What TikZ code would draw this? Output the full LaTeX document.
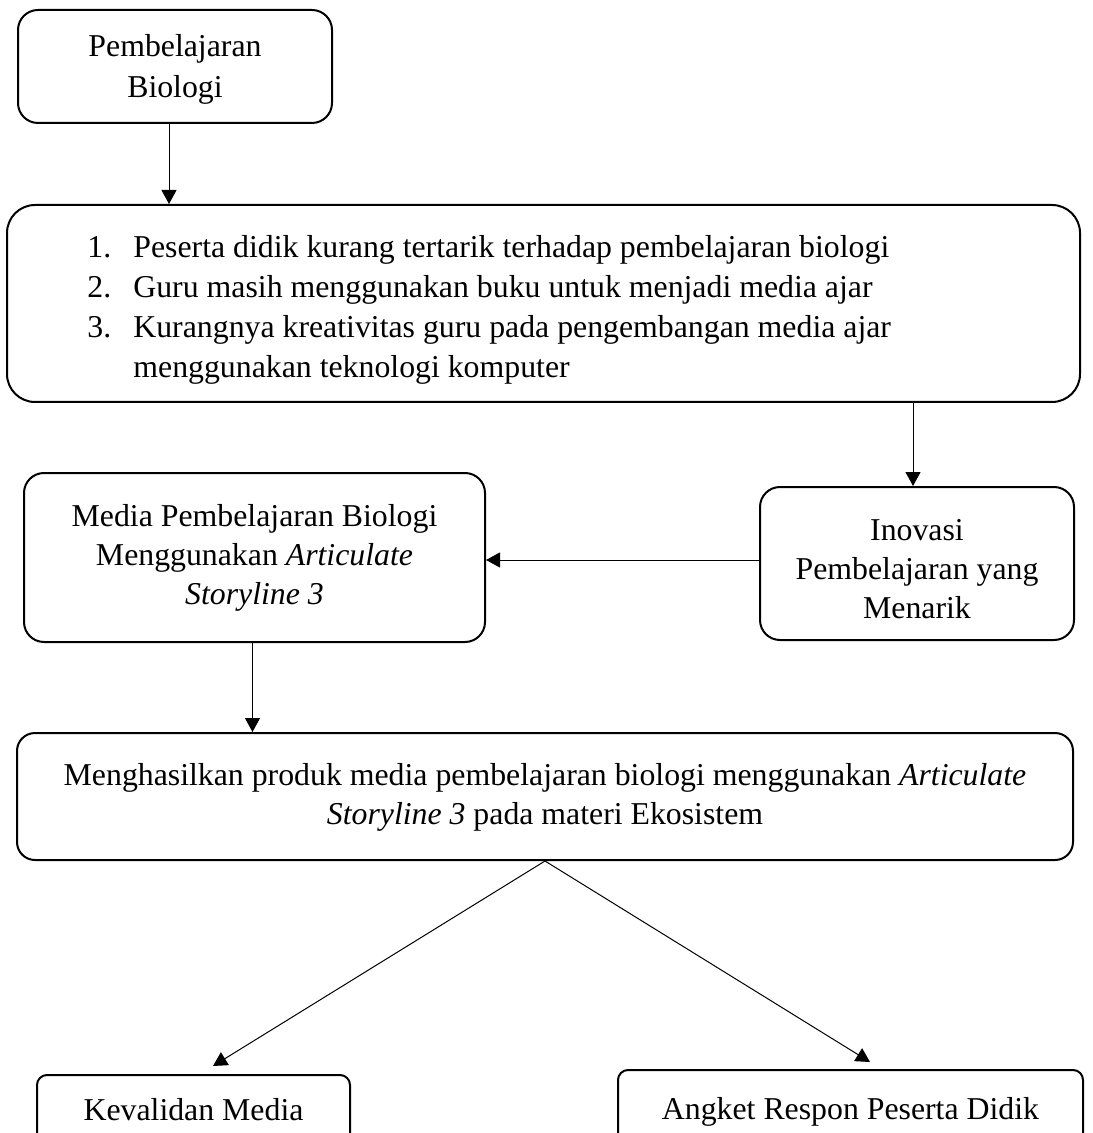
\documentclass[tikz,border=0pt]{standalone}
\usepackage{fontspec}
\setmainfont{Liberation Serif}
\usetikzlibrary{arrows.meta,calc}
\begin{document}
\begin{tikzpicture}[x=0.5pt,y=-0.5pt,
  box/.style={draw, line width=1pt, align=center, inner sep=0pt,
    font=\fontsize{15.9}{19.5}\selectfont},
  txt/.style={align=center, inner sep=0pt, font=\fontsize{15.9}{19.5}\selectfont},
  conn/.style={line width=0.5pt, -{Triangle[length=7pt,width=7.5pt]}}]
\clip (0,0) rectangle (1092,1133);
\fill[white] (0,0) rectangle (1092,1133);

\node[box, rounded corners=10pt, minimum width=157pt, minimum height=56.5pt] (b1) at (175,66.5) {};
\node[txt, font=\fontsize{15.9}{20.3}\selectfont] (b1t) at ($(b1.center)+(0,3)$) {Pembelajaran\\Biologi};

\node[box, rounded corners=14pt, minimum width=536.5pt, minimum height=98.5pt] (b2) at (543.5,303.5) {};
\node[anchor=west, inner sep=0pt, font=\fontsize{15.9}{20}\selectfont] (list) at (87,310)
  {\begin{tabular}{@{}p{23pt}@{}l@{}}
   1. & Peserta didik kurang tertarik terhadap pembelajaran biologi\\
   2. & Guru masih menggunakan buku untuk menjadi media ajar\\
   3. & Kurangnya kreativitas guru pada pengembangan media ajar\\
      & menggunakan teknologi komputer
   \end{tabular}};

\node[box, rounded corners=10pt, minimum width=157pt, minimum height=76.5pt] (inov) at (917,563.5) {};
\node[txt] (inovt) at ($(inov.center)+(0,6)$) {Inovasi\\Pembelajaran yang\\Menarik};

\node[box, rounded corners=10pt, minimum width=230.5pt, minimum height=84.5pt] (media) at (254.5,557.5)
  {Media Pembelajaran Biologi\\Menggunakan \textit{Articulate}\\\textit{Storyline 3}};

\node[box, rounded corners=9pt, minimum width=528pt, minimum height=63.5pt] (b4) at (545,796.5) {};
\node[txt] (b4t) at ($(b4.center)+(0,1)$)
  {Menghasilkan produk media pembelajaran biologi menggunakan \textit{Articulate}\\\textit{Storyline 3} pada materi Ekosistem};

\node[box, rounded corners=5pt, minimum width=156.5pt, minimum height=34.5pt] (kev) at (193.5,1109.5)
  {Kevalidan Media};

\node[box, rounded corners=5pt, minimum width=232.5pt, minimum height=41.5pt] (ang) at (850.5,1111.5)
  {Angket Respon Peserta Didik};

\coordinate (p1) at ($(b1.south)+(-6,0)$);
\draw[conn] (p1) -- (p1 |- b2.north);

\coordinate (p2) at ($(inov.north)+(-4,0)$);
\draw[conn] (p2 |- b2.south) -- (p2);

\coordinate (p3) at ($(inov.west)+(0,-3.5)$);
\draw[conn] (p3) -- (p3 -| media.east);

\coordinate (p4) at ($(media.south)+(-2,0)$);
\draw[conn] (p4) -- (p4 |- b4.north);

\coordinate (kt) at ($(kev.north)+(19.5,-8)$);
\coordinate (at) at ($(ang.north)+(19.5,-7)$);
\draw[conn] (b4.south) -- (kt);
\draw[conn] (b4.south) -- (at);
\end{tikzpicture}
\end{document}
